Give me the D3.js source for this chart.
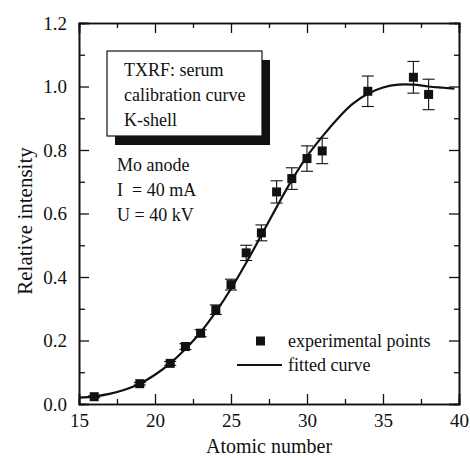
<!DOCTYPE html>
<html>
<head>
  <meta charset="utf-8">
  <title>TXRF serum calibration curve</title>
  <script src="https://d3js.org/d3.v7.min.js"></script>
  <style>
    body { margin: 0; background: #fff; }
    text { font-family: "Liberation Serif", "Times New Roman", "DejaVu Serif", serif; fill: #111; }
  </style>
</head>
<body>
  <div id="Grafica"></div>
  <script>
    // Datos: puntos experimentales (numero atomico, intensidad relativa, error)
    const atomicNumbers = [16, 19, 21, 22, 23, 24, 25, 26, 27, 28, 29, 30, 31, 34, 37, 38];
    const intensities = [0.023, 0.064, 0.128, 0.181, 0.223, 0.297, 0.376, 0.476, 0.539, 0.668, 0.710, 0.773, 0.797, 0.985, 1.029, 0.975];
    const errors = [0.003, 0.004, 0.006, 0.009, 0.011, 0.015, 0.017, 0.024, 0.025, 0.035, 0.034, 0.040, 0.040, 0.048, 0.050, 0.048];

    // Curva ajustada
    const fitZ = [15, 16, 17, 18, 19, 20, 21, 22, 23, 24, 25, 26, 27, 28, 29, 30, 31, 32, 33, 34, 35, 36, 37, 38, 39, 39.7];
    const fitY = [0.020, 0.024, 0.032, 0.045, 0.064, 0.092, 0.128, 0.173, 0.226, 0.290, 0.363, 0.445, 0.532, 0.620, 0.705, 0.780, 0.842, 0.898, 0.945, 0.977, 0.997, 1.006, 1.006, 1.000, 0.996, 0.993];

    // Ticks
    const xTicks = [15, 20, 25, 30, 35, 40];
    const xMinor = [17.5, 22.5, 27.5, 32.5, 37.5];
    const yTicks = [0.0, 0.2, 0.4, 0.6, 0.8, 1.0, 1.2];
    const yMinor = [0.1, 0.3, 0.5, 0.7, 0.9, 1.1];

    const boxLines = ["TXRF: serum", "calibration curve", "K-shell"];
    const infoLines = ["Mo anode", "I  = 40 mA", "U = 40 kV"];

    const margin = {top: 23, right: 11, bottom: 54, left: 79};
    const width = 470 - margin.left - margin.right;
    const height = 458 - margin.top - margin.bottom;

    const x = d3.scaleLinear().domain([15, 40]).range([0, width]);
    const y = d3.scaleLinear().domain([0, 1.2]).range([height, 0]);

    const svg = d3.select("#Grafica")
      .append("svg")
      .attr("width", 470)
      .attr("height", 458)
      .append("g")
      .attr("transform", `translate(${margin.left}, ${margin.top})`);

    const points = atomicNumbers.map((z, i) => ({z: z, v: intensities[i], e: errors[i]}));
    const fit = fitZ.map((z, i) => ({z: z, v: fitY[i]}));

    // Ejes con ticks hacia dentro (cuatro lados)
    const fmt = d3.format(".1f");
    svg.append("g")
      .attr("transform", `translate(0, ${height})`)
      .call(d3.axisBottom(x).tickValues(xTicks).tickSize(-10).tickPadding(10).tickFormat(d3.format("d")));
    svg.append("g")
      .attr("transform", `translate(0, ${height})`)
      .call(d3.axisBottom(x).tickValues(xMinor).tickSize(-5).tickFormat(""));
    svg.append("g")
      .call(d3.axisTop(x).tickValues(xTicks).tickSize(-10).tickFormat(""));
    svg.append("g")
      .call(d3.axisTop(x).tickValues(xMinor).tickSize(-5).tickFormat(""));
    svg.append("g")
      .call(d3.axisLeft(y).tickValues(yTicks).tickSize(-10).tickPadding(12).tickFormat(fmt));
    svg.append("g")
      .call(d3.axisLeft(y).tickValues(yMinor).tickSize(-6).tickFormat(""));
    svg.append("g")
      .attr("transform", `translate(${width}, 0)`)
      .call(d3.axisRight(y).tickValues(yTicks).tickSize(-10).tickFormat(""));
    svg.append("g")
      .attr("transform", `translate(${width}, 0)`)
      .call(d3.axisRight(y).tickValues(yMinor).tickSize(-5).tickFormat(""));

    svg.selectAll(".domain").attr("stroke", "#111").attr("stroke-width", 1.6);
    svg.selectAll(".tick line").attr("stroke", "#111").attr("stroke-width", 1.3);
    svg.selectAll(".tick text")
      .style("font-size", "19px")
      .attr("fill", "#111");

    // Titulos de los ejes
    svg.append("text")
      .attr("x", width / 2)
      .attr("y", height + 49)
      .attr("text-anchor", "middle")
      .style("font-size", "20px")
      .text("Atomic number");

    svg.append("text")
      .attr("transform", "rotate(-90)")
      .attr("x", -(221 - margin.top))
      .attr("y", 32 - margin.left)
      .attr("text-anchor", "middle")
      .style("font-size", "21px")
      .text("Relative intensity");

    // Cuadro con sombra
    const box = svg.append("g").attr("transform", `translate(${107 - margin.left}, ${51 - margin.top})`);
    box.append("rect").attr("x", 8).attr("y", 9).attr("width", 155).attr("height", 85).attr("fill", "#111");
    box.append("rect").attr("x", 0).attr("y", 0).attr("width", 155).attr("height", 85)
      .attr("fill", "#fff").attr("stroke", "#111").attr("stroke-width", 1.2);
    box.selectAll("text.box")
      .data(boxLines)
      .enter()
      .append("text")
      .attr("x", 17)
      .attr("y", (d, i) => 25 + i * 25)
      .style("font-size", "18px")
      .text(d => d);

    svg.selectAll("text.info")
      .data(infoLines)
      .enter()
      .append("text")
      .attr("x", 117 - margin.left)
      .attr("y", (d, i) => 171 - margin.top + i * 25)
      .style("font-size", "18px")
      .style("white-space", "pre")
      .text(d => d);

    // Curva ajustada
    const line = d3.line()
      .x(d => x(d.z))
      .y(d => y(d.v))
      .curve(d3.curveCatmullRom);

    svg.append("path")
      .datum(fit)
      .attr("fill", "none")
      .attr("stroke", "#111")
      .attr("stroke-width", 2.2)
      .attr("d", line);

    // Barras de error
    const bars = svg.selectAll("g.err")
      .data(points)
      .enter()
      .append("g");
    bars.append("line")
      .attr("x1", d => x(d.z)).attr("x2", d => x(d.z))
      .attr("y1", d => y(d.v + d.e)).attr("y2", d => y(d.v - d.e))
      .attr("stroke", "#111").attr("stroke-width", 1.1);
    bars.append("line")
      .attr("x1", d => x(d.z) - 6).attr("x2", d => x(d.z) + 6)
      .attr("y1", d => y(d.v + d.e)).attr("y2", d => y(d.v + d.e))
      .attr("stroke", "#111").attr("stroke-width", 1.1);
    bars.append("line")
      .attr("x1", d => x(d.z) - 6).attr("x2", d => x(d.z) + 6)
      .attr("y1", d => y(d.v - d.e)).attr("y2", d => y(d.v - d.e))
      .attr("stroke", "#111").attr("stroke-width", 1.1);

    // Puntos experimentales
    svg.selectAll("rect.pt")
      .data(points)
      .enter()
      .append("rect")
      .attr("x", d => x(d.z) - 4.5)
      .attr("y", d => y(d.v) - 4.5)
      .attr("width", 9)
      .attr("height", 9)
      .attr("fill", "#111");

    // Leyenda
    const legend = svg.append("g").attr("transform", `translate(${237 - margin.left}, ${341 - margin.top})`);
    legend.append("rect").attr("x", 19).attr("y", -4.5).attr("width", 9).attr("height", 9).attr("fill", "#111");
    legend.append("text").attr("x", 51).attr("y", 6).style("font-size", "18px").text("experimental points");
    legend.append("line").attr("x1", 0).attr("x2", 45).attr("y1", 24).attr("y2", 24)
      .attr("stroke", "#111").attr("stroke-width", 2.2);
    legend.append("text").attr("x", 51).attr("y", 30).style("font-size", "18px").text("fitted curve");
  </script>
</body>
</html>
